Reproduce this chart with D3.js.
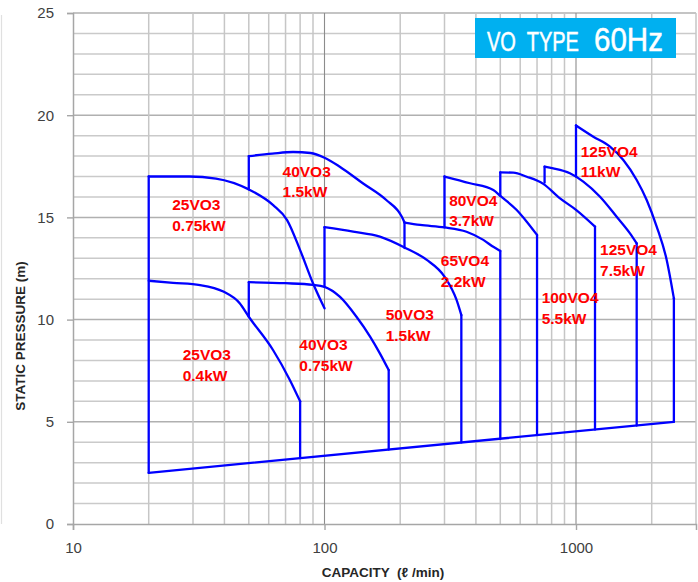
<!DOCTYPE html>
<html>
<head>
<meta charset="utf-8">
<script src="https://cdn.jsdelivr.net/npm/d3@7"></script>
<style>
  body { margin: 0; background: #fff; }
  text { font-family: "Liberation Sans", Arial, sans-serif; }
</style>
</head>
<body>
<svg id="chart" width="698" height="582"></svg>
<script>
// Pump models and motor powers, one entry per performance curve
const models = ["25VO3", "25VO3", "40VO3", "40VO3", "50VO3", "65VO4", "80VO4", "100VO4", "125VO4", "125VO4"];
const powers = ["0.4kW", "0.75kW", "0.75kW", "1.5kW", "1.5kW", "2.2kW", "3.7kW", "5.5kW", "7.5kW", "11kW"];

// Head curves: [capacity (ℓ/min), static pressure (m)]
const head25VO3_04  = [[20, 11.9], [25, 11.8], [32, 11.69], [39.6, 11.37], [46, 10.8], [50, 10.14], [62.5, 8.5], [72.8, 7.05], [80, 6.0]];
const head25VO3_075 = [[20, 17.0], [29, 17.0], [37, 16.9], [50, 16.37], [62.5, 15.6], [71, 14.87], [80, 13.4], [90, 11.78], [100, 10.55]];
const head40VO3_075 = [[50, 11.83], [70, 11.78], [90, 11.7], [100, 11.6], [115, 11.12], [134, 10.14], [152, 9.16], [166, 8.35], [180, 7.53]];
const head40VO3_15  = [[50, 18.0], [62, 18.12], [75, 18.2], [88, 18.15], [100, 17.92], [115, 17.48], [142, 16.67], [176, 15.85], [203, 15.03], [208, 14.75]];
const head50VO3_15  = [[100, 14.52], [130, 14.3], [166, 14.06], [208, 13.53], [255, 12.92], [300, 12.1], [335, 10.96], [350, 10.22]];
const head65VO4_22  = [[208, 14.75], [240, 14.63], [300, 14.51], [367, 14.3], [428, 13.9], [469, 13.56], [500, 13.36]];
const head80VO4_37  = [[300, 17.0], [379, 16.67], [469, 16.34], [500, 16.05], [581, 15.36], [637, 14.79], [700, 14.14]];
const head100VO4_55 = [[500, 17.2], [563, 17.19], [637, 16.99], [741, 16.64], [864, 15.93], [1003, 15.36], [1190, 14.55]];
const head125VO4_75 = [[750, 17.48], [812, 17.4], [946, 17.16], [1069, 16.75], [1246, 16.01], [1451, 15.03], [1639, 14.22], [1743, 13.73]];
const head125VO4_11 = [[1000, 19.5], [1172, 18.95], [1365, 18.46], [1542, 17.81], [1743, 16.83], [1910, 15.85], [2093, 14.55], [2294, 12.92], [2450, 11.04]];

const headCurves = [head25VO3_04, head25VO3_075, head40VO3_075, head40VO3_15, head50VO3_15,
                    head65VO4_22, head80VO4_37, head100VO4_55, head125VO4_75, head125VO4_11];

// Vertical limits of the operating ranges: [capacity, lower pressure, upper pressure]
const rangeEdges = [
  [20, 2.5, 17.0], [50, 10.14, 11.83], [50, 16.37, 18.0], [80, 3.22, 6.0],
  [100, 11.6, 14.52], [180, 3.64, 7.53], [208, 13.5, 14.75], [300, 14.51, 17.0],
  [350, 3.99, 10.22], [500, 4.17, 13.36], [500, 16.05, 17.2], [700, 4.35, 14.14],
  [750, 16.7, 17.48], [1000, 17.0, 19.5], [1190, 4.62, 14.55], [1743, 4.82, 13.73],
  [2450, 5.0, 11.04]
];

// Lower limit of the whole selection area
const minimumLine = [[20, 2.5], [2450, 5.0]];

// Where each model/power caption sits: [capacity, pressure] of its first baseline
const labelAt = [[27.3, 8.02], [24.8, 15.36], [79.4, 8.51], [68.1, 16.99], [175, 9.98],
                 [290, 12.62], [313, 15.57], [730, 10.8], [1246, 13.16], [1044, 17.97]];

// Axis ticks
const yTicks = [0, 5, 10, 15, 20, 25];
const xTicks = [10, 100, 1000];

const svg = d3.select("#chart");
const x = d3.scaleLog().domain([10, 3000]).range([73, 696]);
const y = d3.scaleLinear().domain([0, 25]).range([524, 13]);

// Background grid
const grid = svg.append("g");
const minorX = [];
[10, 100, 1000].forEach(d => { for (let k = 2; k <= 9; k++) if (k * d <= 3000) minorX.push(k * d); });
grid.selectAll("line.hy").data(d3.range(1, 26)).join("line")
  .attr("x1", x(10)).attr("x2", x(3000))
  .attr("y1", d => y(d)).attr("y2", d => y(d))
  .attr("stroke", d => d % 5 === 0 ? "#b0b0b0" : "#cacaca")
  .attr("stroke-width", 1.5);
grid.selectAll("line.vx").data(minorX).join("line")
  .attr("x1", d => x(d)).attr("x2", d => x(d))
  .attr("y1", y(0)).attr("y2", y(25))
  .attr("stroke", "#c6c6c6").attr("stroke-width", 1.5);
grid.selectAll("line.vmaj").data([100, 1000]).join("line")
  .attr("x1", d => x(d)).attr("x2", d => x(d))
  .attr("y1", y(0)).attr("y2", y(25))
  .attr("stroke", "#8c8c8c").attr("stroke-width", 1.1);

// Axes
const yAxis = svg.append("g").attr("transform", `translate(${x(10)},0)`)
  .call(d3.axisLeft(y).tickValues(yTicks).tickSize(6).tickPadding(13));
const xAxis = svg.append("g").attr("transform", `translate(0,${y(0)})`)
  .call(d3.axisBottom(x).tickValues(xTicks).tickFormat(d3.format("d")).tickSize(6).tickPadding(12));
[yAxis, xAxis].forEach(g => {
  g.select(".domain").attr("stroke", "#a6a6a6").attr("stroke-width", 1.5);
  g.selectAll(".tick line").attr("stroke", "#a6a6a6").attr("stroke-width", 1.4);
  g.selectAll(".tick text").attr("fill", "#404040").style("font-size", "15px")
    .style("font-family", '"Liberation Sans", Arial, sans-serif');
});

// Axis titles
svg.append("text")
  .attr("transform", "translate(25,336) rotate(-90)")
  .attr("text-anchor", "middle")
  .attr("font-weight", "bold").attr("font-size", 13.5).attr("fill", "#262626")
  .text("STATIC PRESSURE (m)");
svg.append("text")
  .attr("x", 383).attr("y", 577)
  .attr("text-anchor", "middle")
  .attr("font-weight", "bold").attr("font-size", 13.5).attr("fill", "#262626")
  .attr("xml:space", "preserve")
  .text("CAPACITY  (ℓ /min)");

// Thin frame line at the far left
svg.append("line").attr("x1", 1.5).attr("x2", 1.5).attr("y1", 15).attr("y2", 524)
  .attr("stroke", "#e0e0e0").attr("stroke-width", 1.2);

// Performance curves
const curves = svg.append("g").attr("fill", "none").attr("stroke", "#0000ff")
  .attr("stroke-width", 2.3).attr("stroke-linecap", "round").attr("stroke-linejoin", "round");
const headLine = d3.line().x(d => x(d[0])).y(d => y(d[1])).curve(d3.curveMonotoneX);
curves.selectAll("path.head").data(headCurves).join("path").attr("d", headLine);
curves.selectAll("line.edge").data(rangeEdges).join("line")
  .attr("x1", d => x(d[0])).attr("x2", d => x(d[0]))
  .attr("y1", d => y(d[1])).attr("y2", d => y(d[2]));
curves.append("path").datum(minimumLine).attr("d", d3.line().x(d => x(d[0])).y(d => y(d[1])));

// Model / power captions
const captions = svg.append("g").attr("fill", "#ff0000").attr("font-weight", "bold").attr("font-size", 15.5);
labelAt.forEach((p, i) => {
  captions.append("text").attr("x", x(p[0])).attr("y", y(p[1])).text(models[i]);
  captions.append("text").attr("x", x(p[0])).attr("y", y(p[1]) + 20.5).text(powers[i]);
});

// Title badge with condensed lettering: each word is squeezed horizontally to its width
svg.append("rect").attr("x", 475).attr("y", 18).attr("width", 201).attr("height", 40).attr("fill", "#00b0f0");
[["VO  TYPE", 487, 27, 92], ["60Hz", 594, 33.5, 69]].forEach(([str, left, size, width]) => {
  const t = svg.append("text").attr("fill", "#fff").attr("stroke", "#fff").attr("stroke-width", 0.5)
    .attr("font-size", size).attr("xml:space", "preserve").text(str);
  const natural = t.node().getComputedTextLength();
  t.attr("transform", `translate(${left},51) scale(${width / natural},1)`);
});
</script>
</body>
</html>
